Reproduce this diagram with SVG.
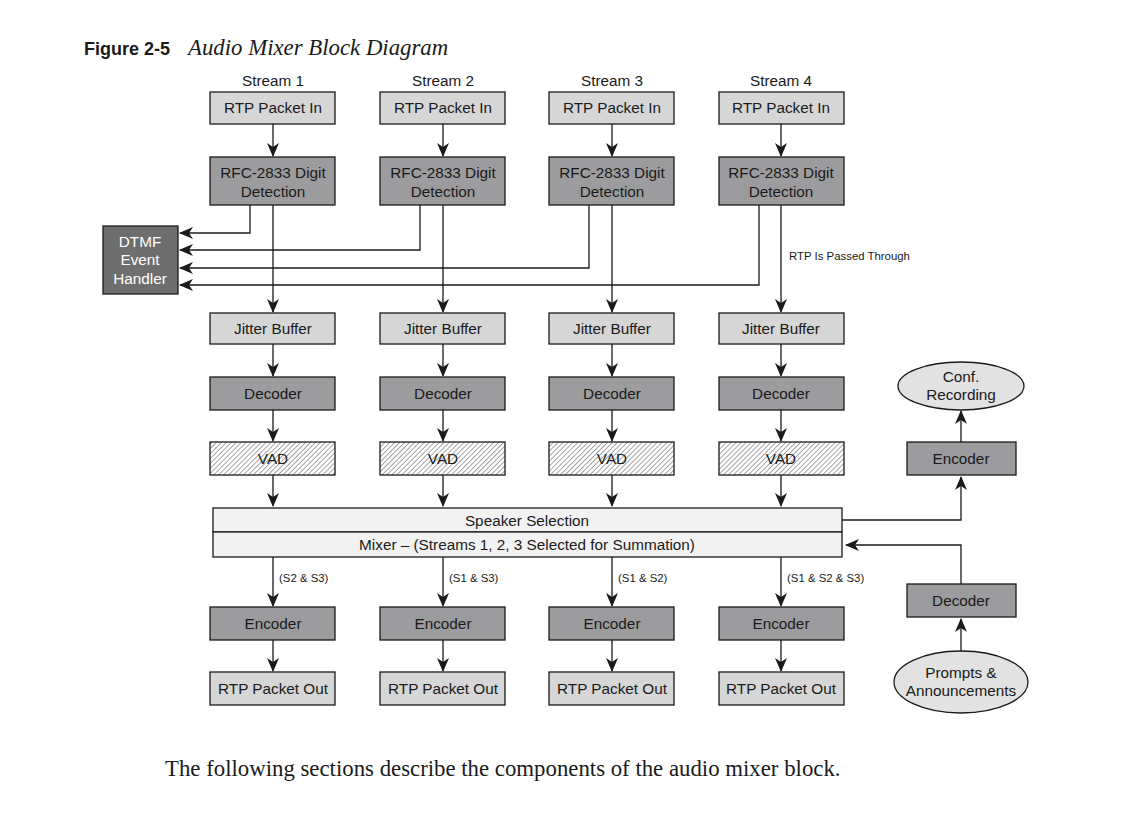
<svg xmlns="http://www.w3.org/2000/svg" width="1122" height="830" viewBox="0 0 1122 830">
<defs>
<marker id="ah" viewBox="0 0 14 12" markerWidth="14" markerHeight="12" refX="13" refY="6" orient="auto" markerUnits="userSpaceOnUse">
<path d="M0,0 L14,6 L0,12 L4,6 z" fill="#1a1a1a"/>
</marker>
<pattern id="hatch" width="3.5" height="3.5" patternUnits="userSpaceOnUse" patternTransform="rotate(45)">
<rect width="3.5" height="3.5" fill="#ffffff"/>
<line x1="0" y1="0" x2="0" y2="3.5" stroke="#7a7a7a" stroke-width="1.3"/>
</pattern>
<style>
.lt{fill:#d6d6d6;stroke:#1a1a1a;stroke-width:1.3}
.dk{fill:#9c9c9e;stroke:#1a1a1a;stroke-width:1.3}
.vd{fill:url(#hatch);stroke:#1a1a1a;stroke-width:1.3}
.bar{fill:#f2f2f2;stroke:#1a1a1a;stroke-width:1.3}
.el{fill:#e2e2e2;stroke:#1a1a1a;stroke-width:1.3}
.t{font-family:"Liberation Sans",Arial,sans-serif;font-size:15.3px;fill:#1a1a1a;text-anchor:middle}
.w{fill:#ffffff}
.s{font-family:"Liberation Sans",Arial,sans-serif;font-size:11.4px;fill:#1a1a1a}
.a{fill:none;stroke:#1a1a1a;stroke-width:1.3;marker-end:url(#ah)}
</style>
</defs>
<rect width="1122" height="830" fill="#ffffff"/>
<g id="title">
<text x="84" y="55" font-family="Liberation Sans,Arial,sans-serif" font-weight="bold" font-size="18" fill="#1a1a1a">Figure 2-5</text>
<text x="188" y="55" font-family="Liberation Serif,'Times New Roman',serif" font-style="italic" font-size="22.8" fill="#1a1a1a">Audio Mixer Block Diagram</text>
</g>
<g id="stream-labels">
<text class="t" x="273" y="86">Stream 1</text>
<text class="t" x="443" y="86">Stream 2</text>
<text class="t" x="612" y="86">Stream 3</text>
<text class="t" x="781" y="86">Stream 4</text>
</g>
<g id="connectors">
<line class="a" x1="273" y1="124" x2="273" y2="156"/>
<line class="a" x1="443" y1="124" x2="443" y2="156"/>
<line class="a" x1="612" y1="124" x2="612" y2="156"/>
<line class="a" x1="781" y1="124" x2="781" y2="156"/>
<line class="a" x1="273" y1="205" x2="273" y2="312"/>
<line class="a" x1="443" y1="205" x2="443" y2="312"/>
<line class="a" x1="612" y1="205" x2="612" y2="312"/>
<line class="a" x1="781" y1="205" x2="781" y2="312"/>
<polyline class="a" points="250,205 250,233 180,233"/>
<polyline class="a" points="420,205 420,250 180,250"/>
<polyline class="a" points="589,205 589,268 180,268"/>
<polyline class="a" points="759,205 759,285 180,285"/>
<line class="a" x1="273" y1="344" x2="273" y2="376"/>
<line class="a" x1="443" y1="344" x2="443" y2="376"/>
<line class="a" x1="612" y1="344" x2="612" y2="376"/>
<line class="a" x1="781" y1="344" x2="781" y2="376"/>
<line class="a" x1="273" y1="410" x2="273" y2="441"/>
<line class="a" x1="443" y1="410" x2="443" y2="441"/>
<line class="a" x1="612" y1="410" x2="612" y2="441"/>
<line class="a" x1="781" y1="410" x2="781" y2="441"/>
<line class="a" x1="273" y1="475" x2="273" y2="506"/>
<line class="a" x1="443" y1="475" x2="443" y2="506"/>
<line class="a" x1="612" y1="475" x2="612" y2="506"/>
<line class="a" x1="781" y1="475" x2="781" y2="506"/>
<line class="a" x1="273" y1="557" x2="273" y2="606"/>
<line class="a" x1="443" y1="557" x2="443" y2="606"/>
<line class="a" x1="612" y1="557" x2="612" y2="606"/>
<line class="a" x1="781" y1="557" x2="781" y2="606"/>
<line class="a" x1="273" y1="640" x2="273" y2="671"/>
<line class="a" x1="443" y1="640" x2="443" y2="671"/>
<line class="a" x1="612" y1="640" x2="612" y2="671"/>
<line class="a" x1="781" y1="640" x2="781" y2="671"/>
<polyline class="a" points="842,520 961,520 961,477"/>
<line class="a" x1="961" y1="442" x2="961" y2="411"/>
<polyline class="a" points="961,584 961,545 846,545"/>
<line class="a" x1="961" y1="651" x2="961" y2="619"/>
</g>
<g id="connector-labels">
<text class="s" x="789" y="260">RTP Is Passed Through</text>
<text class="s" x="279" y="582">(S2 &amp; S3)</text>
<text class="s" x="449" y="582">(S1 &amp; S3)</text>
<text class="s" x="618" y="582">(S1 &amp; S2)</text>
<text class="s" x="787" y="582">(S1 &amp; S2 &amp; S3)</text>
</g>
<g id="rtp-in">
<rect class="lt" x="210" y="92" width="125" height="32"/><text class="t" x="273" y="113">RTP Packet In</text>
<rect class="lt" x="380" y="92" width="125" height="32"/><text class="t" x="443" y="113">RTP Packet In</text>
<rect class="lt" x="549" y="92" width="125" height="32"/><text class="t" x="612" y="113">RTP Packet In</text>
<rect class="lt" x="719" y="92" width="125" height="32"/><text class="t" x="781" y="113">RTP Packet In</text>
</g>
<g id="rfc">
<rect class="dk" x="210" y="157" width="125" height="48"/><text class="t" x="273" y="178">RFC-2833 Digit</text><text class="t" x="273" y="197">Detection</text>
<rect class="dk" x="380" y="157" width="125" height="48"/><text class="t" x="443" y="178">RFC-2833 Digit</text><text class="t" x="443" y="197">Detection</text>
<rect class="dk" x="549" y="157" width="125" height="48"/><text class="t" x="612" y="178">RFC-2833 Digit</text><text class="t" x="612" y="197">Detection</text>
<rect class="dk" x="719" y="157" width="125" height="48"/><text class="t" x="781" y="178">RFC-2833 Digit</text><text class="t" x="781" y="197">Detection</text>
</g>
<g id="dtmf">
<rect x="103" y="226" width="75" height="68" fill="#6e6e6e" stroke="#1a1a1a" stroke-width="1.3"/>
<text class="t w" x="140" y="247">DTMF</text>
<text class="t w" x="140" y="265">Event</text>
<text class="t w" x="140" y="284">Handler</text>
</g>
<g id="jitter">
<rect class="lt" x="210" y="313" width="125" height="31"/><text class="t" x="273" y="334">Jitter Buffer</text>
<rect class="lt" x="380" y="313" width="125" height="31"/><text class="t" x="443" y="334">Jitter Buffer</text>
<rect class="lt" x="549" y="313" width="125" height="31"/><text class="t" x="612" y="334">Jitter Buffer</text>
<rect class="lt" x="719" y="313" width="125" height="31"/><text class="t" x="781" y="334">Jitter Buffer</text>
</g>
<g id="decoder">
<rect class="dk" x="210" y="377" width="125" height="33"/><text class="t" x="273" y="399">Decoder</text>
<rect class="dk" x="380" y="377" width="125" height="33"/><text class="t" x="443" y="399">Decoder</text>
<rect class="dk" x="549" y="377" width="125" height="33"/><text class="t" x="612" y="399">Decoder</text>
<rect class="dk" x="719" y="377" width="125" height="33"/><text class="t" x="781" y="399">Decoder</text>
</g>
<g id="vad">
<rect class="vd" x="210" y="442" width="125" height="33"/><text class="t" x="273" y="464">VAD</text>
<rect class="vd" x="380" y="442" width="125" height="33"/><text class="t" x="443" y="464">VAD</text>
<rect class="vd" x="549" y="442" width="125" height="33"/><text class="t" x="612" y="464">VAD</text>
<rect class="vd" x="719" y="442" width="125" height="33"/><text class="t" x="781" y="464">VAD</text>
</g>
<g id="speaker-selection">
<rect class="bar" x="213" y="508" width="629" height="24"/><text class="t" x="527" y="526">Speaker Selection</text>
</g>
<g id="mixer">
<rect class="bar" x="213" y="532" width="629" height="25"/><text class="t" x="527" y="550">Mixer – (Streams 1, 2, 3 Selected for Summation)</text>
</g>
<g id="encoder">
<rect class="dk" x="210" y="607" width="125" height="33"/><text class="t" x="273" y="629">Encoder</text>
<rect class="dk" x="380" y="607" width="125" height="33"/><text class="t" x="443" y="629">Encoder</text>
<rect class="dk" x="549" y="607" width="125" height="33"/><text class="t" x="612" y="629">Encoder</text>
<rect class="dk" x="719" y="607" width="125" height="33"/><text class="t" x="781" y="629">Encoder</text>
</g>
<g id="rtp-out">
<rect class="lt" x="210" y="672" width="125" height="33"/><text class="t" x="273" y="694">RTP Packet Out</text>
<rect class="lt" x="380" y="672" width="125" height="33"/><text class="t" x="443" y="694">RTP Packet Out</text>
<rect class="lt" x="549" y="672" width="125" height="33"/><text class="t" x="612" y="694">RTP Packet Out</text>
<rect class="lt" x="719" y="672" width="125" height="33"/><text class="t" x="781" y="694">RTP Packet Out</text>
</g>
<g id="conf-recording">
<ellipse class="el" cx="961" cy="386" rx="63" ry="24"/>
<text class="t" x="961" y="382">Conf.</text><text class="t" x="961" y="400">Recording</text>
</g>
<g id="encoder-rec">
<rect class="dk" x="907" y="442" width="109" height="33"/><text class="t" x="961" y="464">Encoder</text>
</g>
<g id="decoder-prompts">
<rect class="dk" x="907" y="584" width="109" height="33"/><text class="t" x="961" y="606">Decoder</text>
</g>
<g id="prompts">
<ellipse class="el" cx="961" cy="682" rx="67" ry="31"/>
<text class="t" x="961" y="678">Prompts &amp;</text><text class="t" x="961" y="696">Announcements</text>
</g>
<g id="footer">
<text x="165" y="776" font-family="Liberation Serif,'Times New Roman',serif" font-size="22.8" fill="#1a1a1a">The following sections describe the components of the audio mixer block.</text>
</g>
</svg>
